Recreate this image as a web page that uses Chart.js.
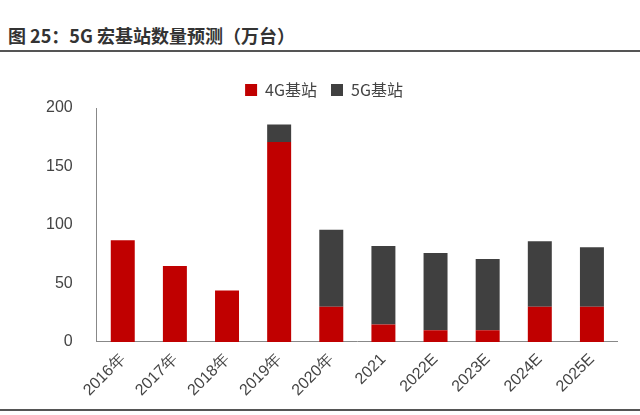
<!DOCTYPE html>
<html><head><meta charset="utf-8">
<script src="https://cdn.jsdelivr.net/npm/chart.js@4"></script>
<style>
body{margin:0;width:640px;height:415px;background:#fff;font-family:"Noto Sans CJK SC","Noto Sans",sans-serif;position:relative;overflow:hidden}
#title{position:absolute;left:8px;top:22px;font-size:18px;font-weight:bold;color:#333}
#top{position:absolute;left:0;top:50px;width:640px;height:2px;background:#555}
#bot{position:absolute;left:0;top:409px;width:640px;height:2px;background:#555}
#wrap{position:absolute;left:30px;top:68px;width:588px;height:340px}
</style></head><body>
<div id="title">图 25：5G 宏基站数量预测（万台）</div>
<div id="top"></div><div id="bot"></div>
<div id="wrap"><canvas id="c"></canvas></div>
<script>
const categories = ['2016年','2017年','2018年','2019年','2020年','2021','2022E','2023E','2024E','2025E'];
const values4G = [87, 65, 44, 171, 30, 15, 10, 10, 30, 30];
const values5G = [0, 0, 0, 15, 66, 67, 66, 61, 56, 51];
const yTicks = [0, 50, 100, 150, 200];

new Chart(document.getElementById('c'), {
  type: 'bar',
  data: {
    labels: categories,
    datasets: [
      { label: '4G基站', data: values4G, backgroundColor: '#C00000', barPercentage: 0.46, categoryPercentage: 1 },
      { label: '5G基站', data: values5G, backgroundColor: '#404040', barPercentage: 0.46, categoryPercentage: 1 }
    ]
  },
  options: {
    responsive: true, maintainAspectRatio: false, animation: false,
    plugins: {
      legend: { labels: { boxWidth: 12, boxHeight: 12, color: '#444', padding: 14, font: { size: 16, family: '"Noto Sans CJK SC"' } } },
      tooltip: { enabled: false }
    },
    scales: {
      x: {
        stacked: true,
        grid: { display: false, drawTicks: false },
        border: { color: '#888' },
        ticks: { color: '#444', maxRotation: 45, minRotation: 45, font: { size: 16 }, padding: 8 }
      },
      y: {
        stacked: true, min: 0, max: 200,
        afterBuildTicks: s => { s.ticks = yTicks.map(v => ({ value: v })); },
        grid: { display: false },
        border: { color: '#888' },
        ticks: { color: '#444', font: { size: 16 }, padding: 16 }
      }
    }
  }
});
</script>
</body></html>
